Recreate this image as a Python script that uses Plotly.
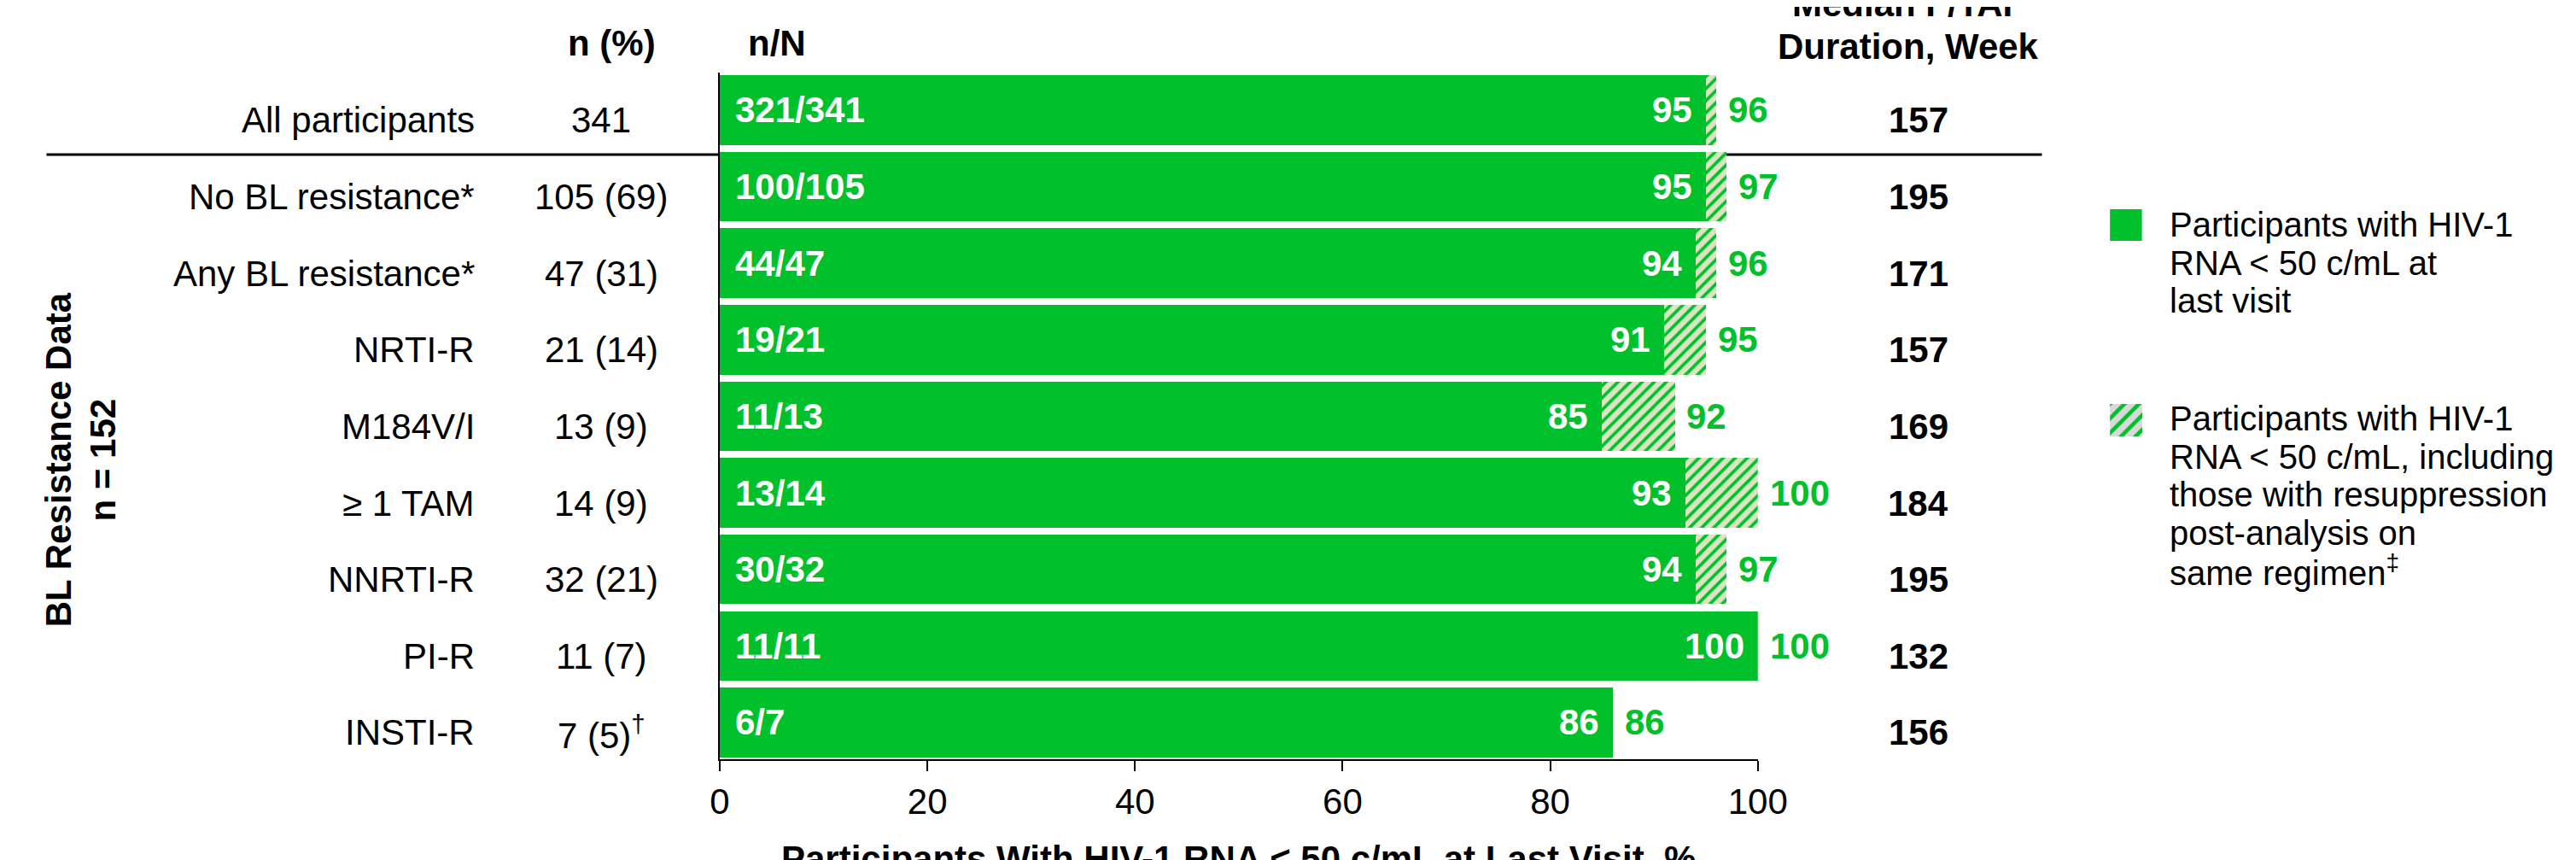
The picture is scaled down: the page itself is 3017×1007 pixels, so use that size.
import plotly.graph_objects as go

# ---------------- data ----------------
categories = ["All participants", "No BL resistance*", "Any BL resistance*", "NRTI-R",
              "M184V/I", "\u2265 1 TAM", "NNRTI-R", "PI-R", "INSTI-R"]
n_pct = ["341", "105 (69)", "47 (31)", "21 (14)", "13 (9)", "14 (9)", "32 (21)", "11 (7)",
         "7 (5)<sup>\u2020</sup>"]
n_over_N = ["321/341", "100/105", "44/47", "19/21", "11/13", "13/14", "30/32", "11/11", "6/7"]
pct_last_visit = [95, 95, 94, 91, 85, 93, 94, 100, 86]
pct_incl_resupp = [96, 97, 96, 95, 92, 100, 97, 100, 86]
median_duration_wk = [157, 195, 171, 157, 169, 184, 195, 132, 156]
x_ticks = [0, 20, 40, 60, 80, 100]

legend_solid = ["Participants with HIV-1", "RNA < 50 c/mL at", "last visit"]
legend_hatch = ["Participants with HIV-1", "RNA < 50 c/mL, including",
                "those with resuppression", "post-analysis on", "same regimen<sup>\u2021</sup>"]

# ---------------- style ----------------
W, H = 3017, 1007
GREEN = "#00C12B"
HATCH_BG = "#DCE5C3"
FONT = "Arial, Liberation Sans, sans-serif"
FS = 42

def px(x):
    return x / W

def py(y):
    return 1 - y / H

diff = [t - s for s, t in zip(pct_last_visit, pct_incl_resupp)]

fig = go.Figure()
fig.add_trace(go.Bar(
    y=categories, x=pct_last_visit, orientation="h", width=0.91,
    marker=dict(color=GREEN, line=dict(width=0)), showlegend=False, hoverinfo="skip"))
fig.add_trace(go.Bar(
    y=categories, x=diff, base=pct_last_visit, orientation="h", width=0.91,
    marker=dict(color=GREEN, line=dict(width=0),
                pattern=dict(shape="/", fillmode="replace", bgcolor=HATCH_BG,
                             fgcolor=GREEN, size=10, solidity=0.38)),
    showlegend=False, hoverinfo="skip"))

# legend hatched swatch drawn as a tiny bar in an inset axis
fig.add_trace(go.Bar(
    x=[1], y=[0], orientation="h", width=1, xaxis="x2", yaxis="y2",
    marker=dict(color=GREEN, line=dict(width=0),
                pattern=dict(shape="/", fillmode="replace", bgcolor="#D9D9D9",
                             fgcolor=GREEN, size=12, solidity=0.38)),
    showlegend=False, hoverinfo="skip"))

ann = []
def add(text, x, y, xref="paper", yref="paper", xanchor="center", yanchor="middle",
        bold=False, color="black", size=FS, **kw):
    ann.append(dict(text=f"<b>{text}</b>" if bold else text, x=x, y=y, xref=xref, yref=yref,
                    xanchor=xanchor, yanchor=yanchor, showarrow=False,
                    font=dict(family=FONT, size=size, color=color), **kw))

for i, cat in enumerate(categories):
    add(cat, px(547), cat, yref="y", xanchor="right", yshift=-12)
    add(n_pct[i], px(695), cat, yref="y", yshift=-12)
    add(str(median_duration_wk[i]), px(2262), cat, yref="y", bold=True, yshift=-12)
    add(n_over_N[i], 0, cat, xref="x", yref="y", xanchor="left", bold=True,
        color="white", xshift=16)
    add(str(pct_last_visit[i]), pct_last_visit[i], cat, xref="x", yref="y",
        xanchor="right", bold=True, color="white", xshift=-14)
    add(str(pct_incl_resupp[i]), pct_incl_resupp[i], cat, xref="x", yref="y",
        xanchor="left", bold=True, color=GREEN, xshift=12)

# headers
add("n (%)", px(708), py(42), bold=True)
add("n/N", px(868), py(42), xanchor="left", bold=True)
add("Median F/TAF", px(2250), py(-3), bold=True)
add("Duration, Week", px(2250), py(47), bold=True)

# rotated group label
add("BL Resistance Data", px(49), py(530), bold=True, textangle=-90)
add("n = 152", px(102), py(530), bold=True, textangle=-90)

# x-axis title
add("Participants With HIV-1 RNA < 50 c/mL at Last Visit, %", px(1453), py(997), bold=True)

# legend text
for j, t in enumerate(legend_solid):
    add(t, px(2559), py(255 + 44.5 * j), xanchor="left", size=40)
for j, t in enumerate(legend_hatch):
    add(t, px(2559), py(482 + 44.5 * j), xanchor="left", size=40)

shapes = [
    dict(type="line", xref="paper", yref="paper", x0=px(35), x1=px(2409),
         y0=py(173), y1=py(173), line=dict(color="black", width=3), layer="below"),
    dict(type="rect", xref="paper", yref="paper", x0=px(2490), x1=px(2528),
         y0=py(274), y1=py(237), fillcolor=GREEN, line=dict(width=0)),
]

fig.update_layout(
    width=W, height=H,
    margin=dict(l=0, r=0, t=0, b=0),
    paper_bgcolor="white", plot_bgcolor="white",
    barmode="overlay", bargap=0,
    annotations=ann, shapes=shapes,
    font=dict(family=FONT, size=FS, color="black"),
    xaxis=dict(domain=[px(836), px(2071)], range=[0, 100], tickvals=x_ticks,
               showline=True, linewidth=2, linecolor="black", ticks="outside",
               ticklen=12, tickwidth=2, tickcolor="black", showgrid=False,
               zeroline=False, tickfont=dict(size=FS, family=FONT, color="black"),
               fixedrange=True),
    yaxis=dict(domain=[py(881), py(77)], type="category", categoryorder="array",
               categoryarray=categories, range=[8.48, -0.49], showticklabels=False,
               showline=True, linewidth=2, linecolor="black", ticks="",
               showgrid=False, zeroline=False, fixedrange=True),
    xaxis2=dict(domain=[px(2490), px(2529)], range=[0, 1], visible=False,
                anchor="y2", fixedrange=True),
    yaxis2=dict(domain=[py(503), py(465)], range=[-0.5, 0.5], visible=False,
                anchor="x2", fixedrange=True),
)

fig.write_html("out.html")
